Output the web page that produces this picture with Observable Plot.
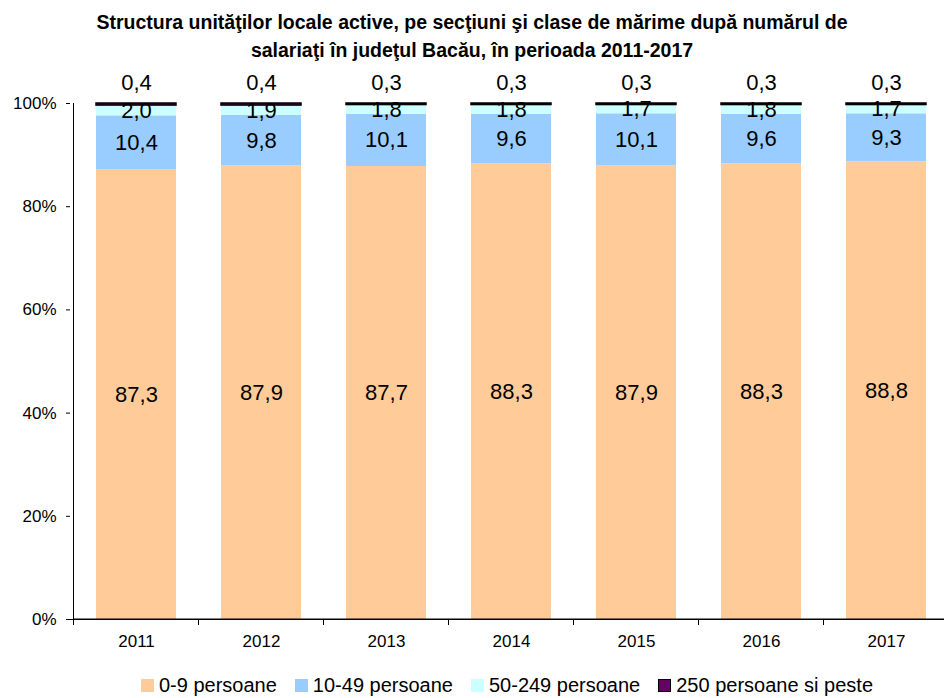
<!DOCTYPE html>
<html>
<head>
<meta charset="utf-8">
<script src="https://cdn.jsdelivr.net/npm/d3@7"></script>
<script src="https://cdn.jsdelivr.net/npm/@observablehq/plot@0.6"></script>
<style>
  html, body { margin: 0; padding: 0; background: #fff; }
  body { width: 944px; height: 698px; overflow: hidden; font-family: "Liberation Sans", Arial, sans-serif; }
  #title { text-align: center; font-weight: bold; font-size: 19.5px; line-height: 28px; padding-top: 8px; height: 57px; color: #000; }
  #legend { display: flex; justify-content: center; align-items: center; gap: 18px; font-size: 20px; line-height: 22px; margin-top: 9px; padding-left: 70px; color: #000; }
  #legend .item { display: flex; align-items: center; gap: 5px; }
  #legend .sw { width: 13px; height: 13px; display: inline-block; box-sizing: border-box; }
</style>
</head>
<body>
<div id="title">Structura unităţilor locale active, pe secţiuni şi clase de mărime după numărul de<br>salariaţi în judeţul Bacău, în perioada 2011-2017</div>
<div id="chart"></div>
<div id="legend"></div>
<script>
const years = ["2011", "2012", "2013", "2014", "2015", "2016", "2017"];
const seriesNames = ["0-9 persoane", "10-49 persoane", "50-249 persoane", "250 persoane si peste"];
const colors = ["#FFCC99", "#99CCFF", "#CCFFFF", "#660066"];
const s0_9 = [87.3, 87.9, 87.7, 88.3, 87.9, 88.3, 88.8];
const s10_49 = [10.4, 9.8, 10.1, 9.6, 10.1, 9.6, 9.3];
const s50_249 = [2.0, 1.9, 1.8, 1.8, 1.7, 1.8, 1.7];
const s250 = [0.4, 0.4, 0.3, 0.3, 0.3, 0.3, 0.3];
const yTicks = [0, 0.2, 0.4, 0.6, 0.8, 1];

const seriesValues = [s0_9, s10_49, s50_249, s250];
const data = [];
seriesNames.forEach((s, i) => {
  years.forEach((y, j) => data.push({year: y, series: s, value: seriesValues[i][j]}));
});
const last = seriesNames[seriesNames.length - 1];
const fmt = v => v.toFixed(1).replace(".", ",");

const plot = Plot.plot({
  width: 944,
  height: 600,
  marginLeft: 70,
  marginRight: -7,
  marginTop: 38,
  marginBottom: 46,
  style: {fontFamily: "'Liberation Sans', Arial, sans-serif", fontSize: "17px", color: "#000", background: "#fff"},
  x: {domain: years, paddingInner: 0.364, paddingOuter: 0.182, label: null},
  y: {domain: [0, 1], label: null},
  color: {domain: seriesNames, range: colors},
  marks: [
    Plot.barY(data, Plot.stackY({offset: "normalize", x: "year", y: "value", fill: "series",
      stroke: d => d.series === last ? "#000" : "none", strokeWidth: 1.5})),
    Plot.text(data, Plot.stackY({offset: "normalize", x: "year", y: "value",
      text: d => d.series === last ? null : fmt(d.value), fontSize: 22, fill: "#000"})),
    Plot.text(data, Plot.stackY2({offset: "normalize", x: "year", y: "value",
      text: d => d.series === last ? fmt(d.value) : null, fontSize: 22, fill: "#000", dy: -21})),
    Plot.axisY({ticks: yTicks, tickFormat: d3.format(".0%"), tickSize: 4, tickPadding: 10, fontSize: 17}),
    Plot.axisX({tickSize: 0, tickPadding: 15, fontSize: 17}),
    Plot.ruleY([0], {stroke: "#000"})
  ]
});
document.getElementById("chart").appendChild(plot);

// y axis line at the left edge and x ticks at category boundaries
const sx = plot.scale("x");
const sy = plot.scale("y");
const svg = d3.select(plot);
const gap = sx.step - sx.bandwidth;
const bounds = years.map(y => sx.apply(y) - gap / 2);
bounds.push(sx.apply(years[years.length - 1]) + sx.bandwidth + gap / 2);
const y0 = sy.apply(0), y1 = sy.apply(1);
svg.append("line").attr("x1", bounds[0]).attr("x2", bounds[0]).attr("y1", y0).attr("y2", y1).attr("stroke", "#000");
svg.append("g").selectAll("line").data(bounds).join("line")
  .attr("x1", d => d).attr("x2", d => d).attr("y1", y0).attr("y2", y0 + 6).attr("stroke", "#000");
svg.append("line").attr("x1", bounds[0]).attr("x2", 944).attr("y1", y0).attr("y2", y0).attr("stroke", "#000");

const legend = d3.select("#legend");
seriesNames.forEach((s, i) => {
  const it = legend.append("div").attr("class", "item");
  it.append("span").attr("class", "sw").style("background", colors[i])
    .style("border", s === last ? "1.5px solid #000" : "none");
  it.append("span").text(s);
});
</script>
</body>
</html>
